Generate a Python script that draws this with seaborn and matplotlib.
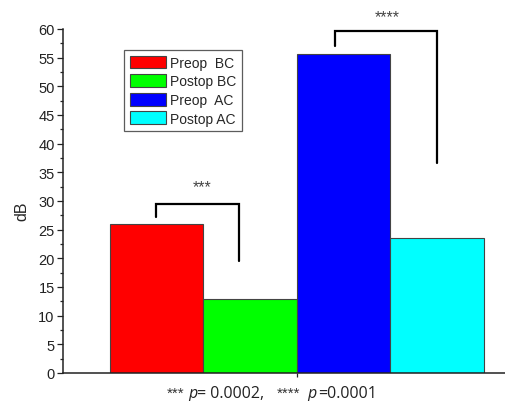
import matplotlib
matplotlib.use('Agg')
import matplotlib.pyplot as plt
import seaborn as sns
import pandas as pd
from matplotlib.ticker import MultipleLocator

groups = ['Preop  BC', 'Postop BC', 'Preop  AC', 'Postop AC']
db = [25.9, 12.9, 55.6, 23.5]
colors = ['#ff0000', '#00ff00', '#0000ff', '#00ffff']
yticks = [0, 5, 10, 15, 20, 25, 30, 35, 40, 45, 50, 55, 60]

# significance brackets: (x left, x right, top, left foot, right foot, label, label x, label y)
brackets = [(0.0, 0.88, 29.5, 27.2, 19.5, '***', 0.487, 31.8),
            (1.91, 3.0, 59.6, 57.0, 36.6, '****', 2.47, 61.4)]

# footnote pieces under the axis: (text, kind, x px)
foot = [('***', 'star', 167), ('p', 'it', 188), ('= 0.0002,', 'rm', 197),
        ('****', 'star', 277), ('p', 'it', 307), ('=0.0001', 'rm', 318)]

sns.set_style('ticks')
plt.rcParams['font.family'] = ['Liberation Sans', 'DejaVu Sans']

df = pd.DataFrame({'group': groups, 'dB': db})

fig = plt.figure(figsize=(5.06, 4.02), dpi=100)
ax = fig.add_axes([0.1245, 0.0697, 0.8755, 0.8557])

sns.barplot(data=df, x='group', y='dB', hue='group', palette=colors,
            saturation=1, width=1.0, dodge=False, edgecolor='#444444',
            linewidth=0.8, legend=True, ax=ax)

ax.set_xlim(-1.0, 3.74)
ax.set_ylim(0, 60)
ax.set_yticks(yticks)
ax.yaxis.set_minor_locator(MultipleLocator(2.5))
ax.set_xticks([1.5])
ax.set_xticklabels([''])
ax.tick_params(axis='y', which='major', length=4, width=0.9, labelsize=10.5,
               colors='#222222', pad=2)
ax.tick_params(axis='y', which='minor', length=2, width=0.9)
ax.tick_params(axis='x', length=3, width=0.9)
for s in ['top', 'right']:
    ax.spines[s].set_visible(False)
for s in ['left', 'bottom']:
    ax.spines[s].set_linewidth(1.1)
    ax.spines[s].set_color('#222222')

ax.set_ylabel('dB', fontsize=11.5)
ax.yaxis.set_label_coords(-0.075, 0.474)
ax.set_xlabel('')

for txt, kind, xp in foot:
    if kind == 'star':
        fig.text(xp / 506, 1 - 398 / 402, txt, fontsize=11, color='#333333',
                 ha='left', va='baseline')
    else:
        fig.text(xp / 506, 1 - 398 / 402, txt, fontsize=11.5, color='#222222',
                 family='Open Sans', style='italic' if kind == 'it' else 'normal',
                 ha='left', va='baseline')

for x0, x1, top, y0, y1, lab, lx, ly in brackets:
    ax.plot([x0, x0, x1, x1], [y0, top, top, y1], color='black', lw=1.6,
            clip_on=False, solid_joinstyle='miter')
    ax.text(lx, ly, lab, ha='center', va='baseline',
            fontsize=11.5, color='#444444', clip_on=False)

leg = ax.legend(loc='upper left', bbox_to_anchor=(0.138, 0.939),
                borderaxespad=0, fancybox=False, edgecolor='#333333',
                fontsize=10, handlelength=2.6, handleheight=1.05,
                labelspacing=0.32, handletextpad=0.3, borderpad=0.4,
                title=None)
leg.get_frame().set_linewidth(0.9)

fig.savefig('out.png', dpi=100)
